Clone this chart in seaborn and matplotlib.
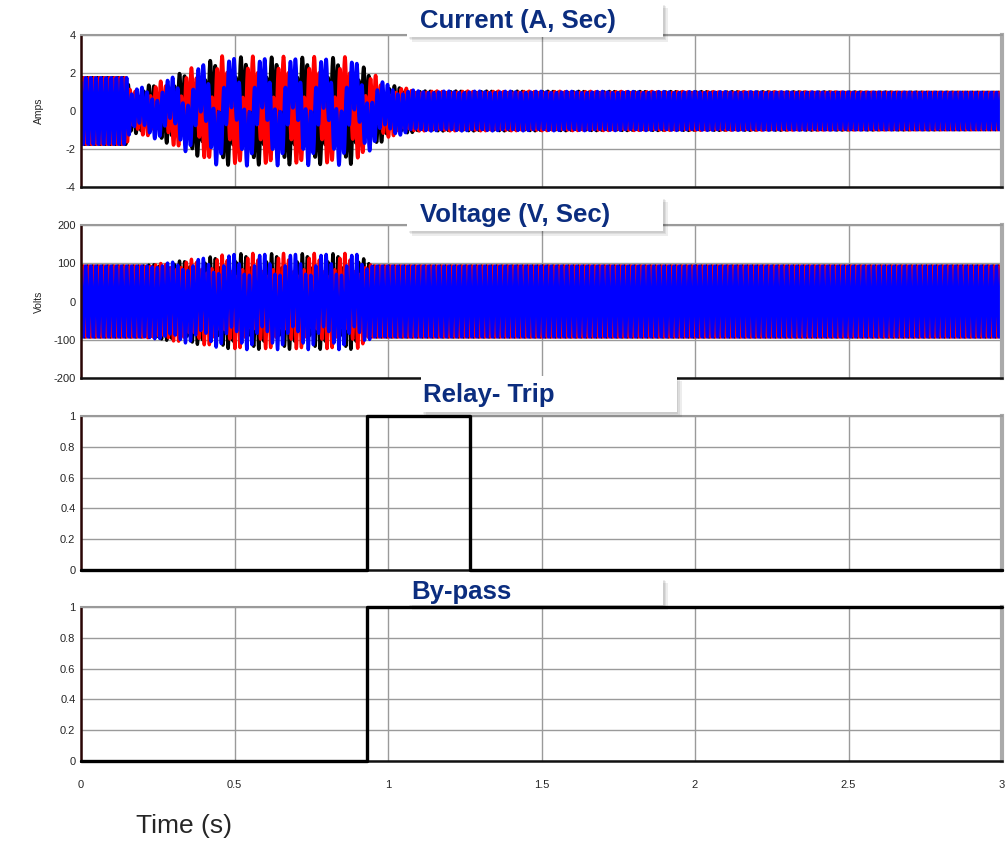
import numpy as np
import pandas as pd
import seaborn as sns
import matplotlib.pyplot as plt
from matplotlib.patches import Rectangle

# --- values ---
t_end = 3.0
f_grid = 60.0       # Hz, fundamental
f_sub = 10.0        # Hz, slow swing seen during the disturbance
samples_per_cycle = 24

phases = ["a", "b", "c"]
phase_colors = ["#000000", "#ff0000", "#0000ff"]
phase_shift_deg = [0, -120, 120]

# current envelope (A): knot times, fundamental peak, slow-swing peak
cur_knots_t = [0.0, 0.15, 0.16, 0.25, 0.35, 0.45, 0.88, 0.94, 1.0, 1.1, 3.0]
cur_grid_amp = [1.75, 1.75, 0.9, 1.0, 1.2, 1.35, 1.35, 1.2, 1.1, 1.0, 0.98]
cur_sub_amp = [0.0, 0.0, 0.2, 0.5, 1.0, 1.55, 1.5, 0.9, 0.3, 0.05, 0.0]

# voltage envelope (V)
volt_knots_t = [0.0, 0.20, 0.50, 0.90, 0.95, 3.0]
volt_grid_amp = [93, 93, 96, 96, 93, 93]
volt_sub_amp = [0, 0, 30, 30, 0, 0]

# relay trip / by-pass logic signals
relay_t = [0.0, 0.932, 1.268, 3.0]
relay_state = [0, 1, 0, 0]
bypass_t = [0.0, 0.932, 3.0]
bypass_state = [0, 1, 1]

panel_titles = ["Current (A, Sec)", "Voltage (V, Sec)", "Relay- Trip", "By-pass"]
x_ticks = [0, 0.5, 1, 1.5, 2, 2.5, 3]
x_tick_labels = ["0", "0.5", "1", "1.5", "2", "2.5", "3"]


def three_phase(knots, grid_amp, sub_amp):
    t = np.arange(0, t_end, 1.0 / (f_grid * samples_per_cycle))
    a = np.interp(t, knots, grid_amp)
    b = np.interp(t, knots, sub_amp)
    frames = []
    for name, sh in zip(phases, phase_shift_deg):
        ph = np.deg2rad(sh)
        y = a * np.sin(2 * np.pi * f_grid * t + ph) + b * np.sin(2 * np.pi * f_sub * t + ph)
        frames.append(pd.DataFrame({"t": t, "y": y, "phase": name}))
    return pd.concat(frames, ignore_index=True)


cur_df = three_phase(cur_knots_t, cur_grid_amp, cur_sub_amp)
volt_df = three_phase(volt_knots_t, volt_grid_amp, volt_sub_amp)
relay_df = pd.DataFrame({"t": relay_t, "y": relay_state})
bypass_df = pd.DataFrame({"t": bypass_t, "y": bypass_state})

sns.set_style("white")
plt.rcParams["font.family"] = ["Liberation Sans", "DejaVu Sans"]

W, H = 1006, 843
fig = plt.figure(figsize=(W / 100, H / 100), dpi=100)

# panel boxes in pixels: (top, bottom)
left_px, right_px = 81, 1002
rows_px = [(35, 187), (225, 378), (416, 570), (607, 761)]
axes = []
for top, bot in rows_px:
    ax = fig.add_axes([left_px / W, 1 - bot / H, (right_px - left_px) / W, (bot - top) / H])
    axes.append(ax)

ylims = [(-4, 4), (-200, 200), (0, 1), (0, 1)]
yticks = [[-4, -2, 0, 2, 4], [-200, -100, 0, 100, 200],
          [0, 0.2, 0.4, 0.6, 0.8, 1], [0, 0.2, 0.4, 0.6, 0.8, 1]]
ylabels = ["Amps", "Volts", "", ""]

sns.lineplot(data=cur_df, x="t", y="y", hue="phase", hue_order=phases, palette=phase_colors,
             estimator=None, sort=False, lw=2.6, legend=False, ax=axes[0])
sns.lineplot(data=volt_df, x="t", y="y", hue="phase", hue_order=phases, palette=phase_colors,
             estimator=None, sort=False, lw=2.4, legend=False, ax=axes[1])
sns.lineplot(data=relay_df, x="t", y="y", color="black", lw=2.4, drawstyle="steps-post",
             clip_on=False, ax=axes[2], zorder=5)
sns.lineplot(data=bypass_df, x="t", y="y", color="black", lw=2.4, drawstyle="steps-post",
             clip_on=False, ax=axes[3], zorder=5)

for i, ax in enumerate(axes):
    ax.set_xlim(0, 3)
    ax.set_ylim(*ylims[i])
    ax.set_xticks(x_ticks)
    ax.set_yticks(yticks[i])
    ax.set_yticklabels([f"{v:g}" for v in yticks[i]])
    ax.grid(True, color="#9a9a9a", lw=1.0)
    ax.set_axisbelow(True)
    ax.tick_params(axis="both", length=0, labelsize=8, pad=4)
    ax.set_xlabel("")
    ax.set_ylabel(ylabels[i], fontsize=7.5)
    ax.yaxis.set_label_coords(-0.040, 0.5)
    ax.spines["left"].set_color("#2a0505")
    ax.spines["left"].set_linewidth(1.8)
    ax.spines["bottom"].set_color("#111111")
    ax.spines["bottom"].set_linewidth(1.8)
    ax.spines["top"].set_color("#9a9a9a")
    ax.spines["top"].set_linewidth(1.5)
    ax.spines["right"].set_color("#aaaaaa")
    ax.spines["right"].set_linewidth(3)
    if i < 3:
        ax.set_xticklabels([])
    else:
        ax.set_xticklabels(x_tick_labels)
        ax.tick_params(axis="x", pad=14)

fig.text(184 / W, 1 - 826 / H, "Time (s)", fontsize=19, ha="center", va="center")

# title boxes with a soft shadow
boxes_px = [(407, 663, 3, 37), (407, 663, 197, 231), (421, 677, 376, 412), (407, 663, 578, 605)]
text_x_px = [420, 420, 423, 411]
for (x0, x1, y0, y1), tx, title in zip(boxes_px, text_x_px, panel_titles):
    for off in [1.5, 3, 4.5]:
        fig.add_artist(Rectangle(((x0 + off) / W, 1 - (y1 + off) / H), (x1 - x0) / W, (y1 - y0) / H,
                                 transform=fig.transFigure, facecolor="black", alpha=0.07,
                                 edgecolor="none", zorder=9))
    fig.add_artist(Rectangle((x0 / W, 1 - y1 / H), (x1 - x0) / W, (y1 - y0) / H,
                             transform=fig.transFigure, facecolor="white",
                             edgecolor="none", zorder=10))
    fig.text(tx / W, 1 - ((y0 + y1) / 2 + 1) / H, title, fontsize=18.5, fontweight="bold",
             color="#0b2d7f", ha="left", va="center", zorder=11)

fig.savefig("out.png", dpi=100)
